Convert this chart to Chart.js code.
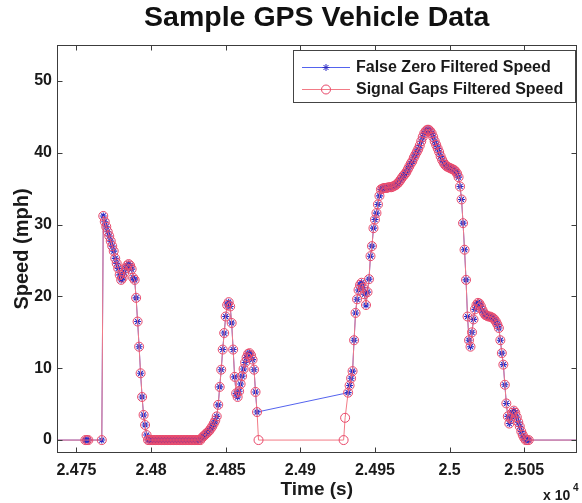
<!DOCTYPE html>
<html>
<head>
<meta charset="utf-8">
<script src="https://cdn.jsdelivr.net/npm/chart.js@4.4.1/dist/chart.umd.min.js"></script>
<style>
  html, body { margin: 0; padding: 0; background: #fff; }
  canvas { display: block; }
</style>
</head>
<body>
<canvas id="gpsChart" width="582" height="503"></canvas>
<script>
// ─── Data (time in s, speed in mph) ───
const time = [
    24730, 24756, 24757, 24758, 24767,
    24768, 24769, 24770, 24771, 24772, 24773, 24774, 24775, 24776, 24777,
    24778, 24779, 24780, 24781, 24782, 24783, 24784, 24785, 24786, 24787,
    24788, 24789, 24790, 24791, 24792, 24793, 24794, 24795, 24796, 24797,
    24798, 24799, 24800, 24801, 24802, 24803, 24804, 24805, 24806, 24807,
    24808, 24809, 24810, 24811, 24812, 24813, 24814, 24815, 24816, 24817,
    24818, 24819, 24820, 24821, 24822, 24823, 24824, 24825, 24826, 24827,
    24828, 24829, 24830, 24831, 24832, 24833, 24834, 24835, 24836, 24837,
    24838, 24839, 24840, 24841, 24842, 24843, 24844, 24845, 24846, 24847,
    24848, 24849, 24850, 24851, 24852, 24853, 24854, 24855, 24856, 24857,
    24858, 24859, 24860, 24861, 24862, 24863, 24864, 24865, 24866, 24867,
    24868, 24869, 24870, 24871,
    24932, 24933, 24934, 24935, 24936, 24937, 24938, 24939, 24940, 24941,
    24942, 24943, 24944, 24945, 24946, 24947, 24948, 24949, 24950, 24951,
    24952, 24953, 24954, 24955, 24956, 24957, 24958, 24959, 24960, 24961,
    24962, 24963, 24964, 24965, 24966, 24967, 24968, 24969, 24970, 24971,
    24972, 24973, 24974, 24975, 24976, 24977, 24978, 24979, 24980, 24981,
    24982, 24983, 24984, 24985, 24986, 24987, 24988, 24989, 24990, 24991,
    24992, 24993, 24994, 24995, 24996, 24997, 24998, 24999, 25000, 25001,
    25002, 25003, 25004, 25005, 25006, 25007, 25008, 25009, 25010, 25011,
    25012, 25013, 25014, 25015, 25016, 25017, 25018, 25019, 25020, 25021,
    25022, 25023, 25024, 25025, 25026, 25027, 25028, 25029, 25030, 25031,
    25032, 25033, 25034, 25035, 25036, 25037, 25038, 25039, 25040, 25041,
    25042, 25043, 25044, 25045, 25046, 25047, 25048, 25049, 25050, 25051,
    25052, 25053,
    25090
];

// False Zero Filtered Speed (signal gap bridged straight across)
const speedFalseZero = [
    0, 0, 0, 0, 0,
    31.2, 30.4, 29.7, 29.0, 28.4, 27.7, 27.0, 26.3, 25.3, 24.6,
    23.9, 23.0, 22.3, 22.6, 23.3, 23.9, 24.3, 24.5, 24.3, 23.8,
    22.6, 22.3, 19.8, 16.5, 13.0, 9.3, 6.0, 3.5, 2.1, 0.7,
    0, 0, 0, 0, 0, 0, 0, 0, 0, 0,
    0, 0, 0, 0, 0, 0, 0, 0, 0, 0,
    0, 0, 0, 0, 0, 0, 0, 0, 0, 0,
    0, 0, 0, 0, 0, 0, 0.3, 0.5, 0.7, 0.9,
    1.1, 1.3, 1.6, 1.9, 2.3, 2.7, 3.3, 4.9, 7.4, 9.8,
    12.6, 14.9, 17.2, 18.8, 19.2, 18.6, 16.3, 12.6, 8.8, 6.5,
    6.0, 6.8, 7.8, 8.9, 9.9, 10.8, 11.5, 12.0, 12.1, 11.8,
    11.2, 9.8, 6.7, 3.9,
    6.6, 7.6, 8.6, 9.6, 13.9, 17.7, 19.6, 20.9, 21.6, 21.9,
    21.2, 20.3, 18.8, 20.6, 22.4, 25.6, 27.0, 29.5, 30.7, 31.6,
    32.8, 34.0, 34.9, 35.0, 35.1, 35.1, 35.1, 35.2, 35.2, 35.2,
    35.3, 35.4, 35.5, 35.7, 35.9, 36.2, 36.5, 36.8, 37.0, 37.3,
    37.7, 38.1, 38.5, 38.8, 39.3, 39.7, 40.1, 40.5, 41.0, 41.6,
    42.2, 42.7, 43.0, 43.2, 43.2, 43.0, 42.7, 42.2, 41.6, 41.1,
    40.6, 40.1, 39.5, 39.0, 38.6, 38.3, 38.1, 38.0, 37.9, 37.8,
    37.7, 37.6, 37.4, 37.1, 36.6, 35.3, 33.5, 30.2, 26.5, 22.3,
    17.2, 13.9, 13.0, 15.0, 16.8, 18.2, 18.8, 19.1, 19.0, 18.6,
    18.1, 17.7, 17.4, 17.3, 17.2, 17.2, 17.1, 17.0, 16.8, 16.5,
    16.1, 15.6, 13.9, 12.1, 10.5, 7.7, 5.1, 3.3, 2.3, 3.0,
    3.8, 4.1, 3.8, 3.2, 2.5, 1.9, 1.2, 0.7, 0.3, 0,
    0, 0,
    0
];

// Signal Gaps Filtered Speed: same samples, plus the gap dropped to zero
const gapTime = [24872, 24929, 24930];
const gapSpeed = [0, 0, 3.1];

const xTicks = [24750, 24800, 24850, 24900, 24950, 25000, 25050];
const xTickLabels = ['2.475', '2.48', '2.485', '2.49', '2.495', '2.5', '2.505'];
const yTicks = [0, 10, 20, 30, 40, 50];

const FONT = "'Liberation Sans', Arial, Helvetica, sans-serif";
const TEXT = '#1a1a1a';
const BLUE_LINE = '#5463ee';
const BLUE_MARK = '#2a2ac4';
const RED_LINE = '#f27b86';
const RED_MARK = '#e8486a';

const blueData = time.map((t, i) => ({ x: t, y: speedFalseZero[i] }));
const redData = blueData
    .concat(gapTime.map((t, i) => ({ x: t, y: gapSpeed[i] })))
    .sort((a, b) => a.x - b.x);

// MATLAB-style box, inward ticks, legend and exponent label
const framePlugin = {
    id: 'matlabFrame',
    afterDraw(chart) {
        const { ctx, chartArea: a, scales: { x, y } } = chart;
        const L = Math.round(a.left) + 0.5;
        const R = Math.round(a.right) - 0.5;
        const T = Math.round(a.top) + 0.5;
        const B = Math.round(a.bottom) - 0.5;
        ctx.save();
        ctx.strokeStyle = '#3c3c3c';
        ctx.lineWidth = 1;
        ctx.strokeRect(L, T, R - L, B - T);
        ctx.beginPath();
        xTicks.forEach(v => {
            const px = Math.round(x.getPixelForValue(v)) + 0.5;
            ctx.moveTo(px, B); ctx.lineTo(px, B - 5);
            ctx.moveTo(px, T); ctx.lineTo(px, T + 5);
        });
        yTicks.forEach(v => {
            const py = Math.round(y.getPixelForValue(v)) + 0.5;
            ctx.moveTo(L, py); ctx.lineTo(L + 5, py);
            ctx.moveTo(R, py); ctx.lineTo(R - 5, py);
        });
        ctx.stroke();

        // legend
        const lx = 293.5, ly = 50.5, lw = 282, lh = 52;
        ctx.fillStyle = '#fff';
        ctx.fillRect(lx, ly, lw, lh);
        ctx.strokeStyle = '#444';
        ctx.strokeRect(lx, ly, lw, lh);
        const rows = [
            { y: 67, line: BLUE_LINE, mark: BLUE_MARK, style: 'star', r: 3.5, text: 'False Zero Filtered Speed' },
            { y: 89, line: RED_LINE, mark: RED_MARK, style: 'circle', r: 4.5, text: 'Signal Gaps Filtered Speed' }
        ];
        rows.forEach(row => {
            ctx.strokeStyle = row.line;
            ctx.lineWidth = 1;
            ctx.beginPath();
            ctx.moveTo(302, row.y + 0.5);
            ctx.lineTo(350, row.y + 0.5);
            ctx.stroke();
            ctx.strokeStyle = row.mark;
            ctx.fillStyle = 'rgba(0,0,0,0)';
            Chart.helpers.drawPoint(ctx, { pointStyle: row.style, radius: row.r, rotation: 0, borderWidth: 1 }, 326, row.y + 0.5);
            ctx.fillStyle = TEXT;
            ctx.font = `bold 16px ${FONT}`;
            ctx.textAlign = 'left';
            ctx.textBaseline = 'middle';
            ctx.fillText(row.text, 356, row.y + 1);
        });

        // x 10^4
        ctx.fillStyle = TEXT;
        ctx.font = `bold 14px ${FONT}`;
        ctx.textBaseline = 'alphabetic';
        ctx.fillText('x 10', 543, 500);
        ctx.font = `bold 10px ${FONT}`;
        ctx.fillText('4', 573, 491);
        ctx.restore();
    }
};

new Chart(document.getElementById('gpsChart'), {
    type: 'scatter',
    data: {
        datasets: [
            {
                label: 'False Zero Filtered Speed',
                data: blueData,
                showLine: true,
                borderColor: BLUE_LINE,
                borderWidth: 1,
                pointStyle: 'star',
                pointRadius: 3.5,
                pointBorderColor: BLUE_MARK,
                pointBorderWidth: 1.1,
                pointBackgroundColor: 'rgba(0,0,0,0)',
                order: 1
            },
            {
                label: 'Signal Gaps Filtered Speed',
                data: redData,
                showLine: true,
                borderColor: RED_LINE,
                borderWidth: 1,
                pointStyle: 'circle',
                pointRadius: 4.5,
                pointBorderColor: RED_MARK,
                pointBorderWidth: 1,
                pointBackgroundColor: 'rgba(0,0,0,0)',
                order: 0
            }
        ]
    },
    options: {
        responsive: false,
        animation: false,
        devicePixelRatio: 1,
        layout: { padding: { left: 0, right: 5, top: 0, bottom: 0 } },
        plugins: {
            legend: { display: false },
            tooltip: { enabled: false },
            title: {
                display: true,
                text: 'Sample GPS Vehicle Data',
                fullSize: false,
                color: '#111',
                font: { family: FONT, size: 28.5, weight: 'bold' },
                padding: { top: 1.5, bottom: 9.3 }
            }
        },
        scales: {
            x: {
                type: 'linear',
                min: 24737,
                max: 25085,
                afterBuildTicks: s => { s.ticks = xTicks.map(v => ({ value: v })); },
                afterFit: s => { s.height = 50; },
                grid: { display: false, drawTicks: false, tickLength: 0 },
                border: { display: false },
                ticks: {
                    autoSkip: false,
                    maxRotation: 0,
                    padding: 8,
                    color: TEXT,
                    font: { family: FONT, size: 16, weight: 'bold' },
                    callback: v => xTickLabels[xTicks.indexOf(v)]
                },
                title: {
                    display: true,
                    text: 'Time (s)',
                    color: TEXT,
                    font: { family: FONT, size: 19, weight: 'bold' },
                    padding: { top: 0, bottom: 2 }
                }
            },
            y: {
                min: -1.8,
                max: 55,
                afterBuildTicks: s => { s.ticks = yTicks.map(v => ({ value: v })); },
                afterFit: s => { s.width = 57; },
                grid: { display: false, drawTicks: false, tickLength: 0 },
                border: { display: false },
                ticks: {
                    padding: 5,
                    color: TEXT,
                    font: { family: FONT, size: 16, weight: 'bold' }
                },
                title: {
                    display: true,
                    text: 'Speed (mph)',
                    color: TEXT,
                    font: { family: FONT, size: 20, weight: 'bold' },
                    padding: { top: 10, bottom: 0 }
                }
            }
        }
    },
    plugins: [framePlugin]
});
</script>
</body>
</html>
